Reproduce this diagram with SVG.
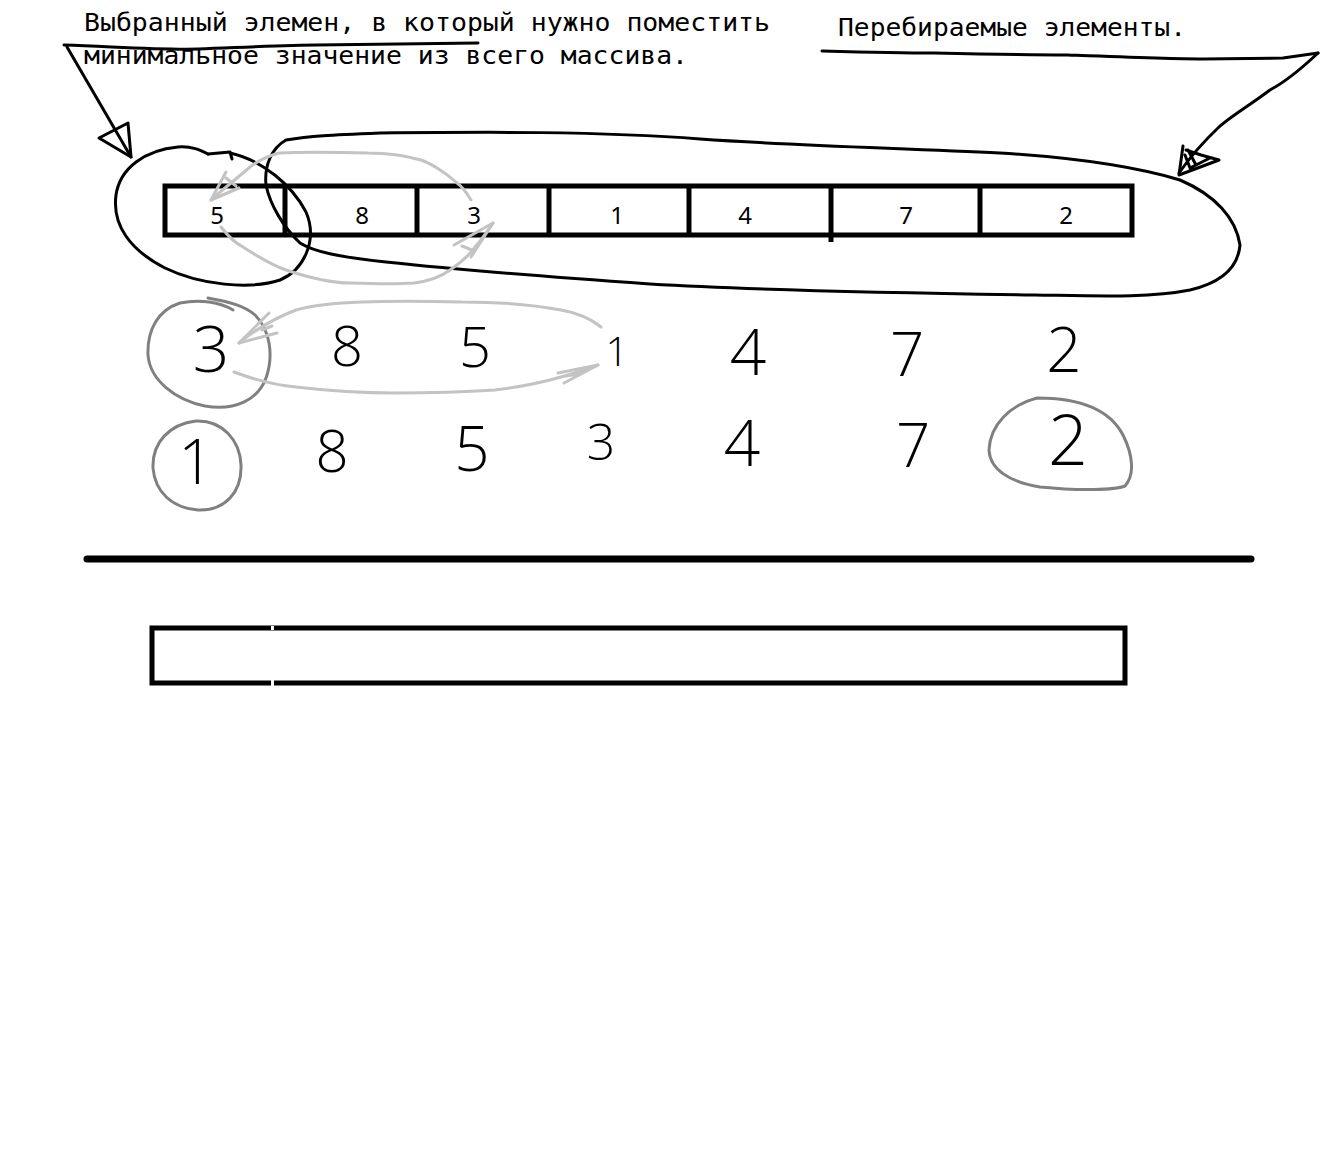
<svg xmlns="http://www.w3.org/2000/svg" width="1326" height="1160" viewBox="0 0 1326 1160">
<style>
.mono{font-family:"DejaVu Sans Mono","Liberation Mono",monospace;font-size:24px;fill:#000}
.cell{font-family:"Noto Sans","Open Sans",sans-serif;font-size:24px;fill:#000;text-anchor:middle}
.hand{font-family:"Open Sans","Noto Sans",sans-serif;font-weight:300;fill:#000;text-anchor:middle}
.ink{fill:none;stroke:#000;stroke-width:3;stroke-linecap:round;stroke-linejoin:round}
.gray{fill:none;stroke:#808080;stroke-width:3;stroke-linecap:round;stroke-linejoin:round}
.light{fill:none;stroke:#c3c3c3;stroke-width:3;stroke-linecap:round;stroke-linejoin:round}
.box{fill:none;stroke:#000;stroke-width:5}
</style>
<rect width="1326" height="1160" fill="#fff"/>

<g id="label-selected">
<text class="mono" x="84" y="31" textLength="686" lengthAdjust="spacingAndGlyphs">Выбранный элемен, в который нужно поместить</text>
<text class="mono" x="84" y="64" textLength="604" lengthAdjust="spacingAndGlyphs">минимальное значение из всего массива.</text>
</g>
<g id="label-iterated">
<text class="mono" x="838" y="36" textLength="348" lengthAdjust="spacingAndGlyphs">Перебираемые элементы.</text>
</g>

<g id="array-top">
<rect class="box" x="165" y="186" width="967" height="49"/>
<line class="box" x1="285" y1="186" x2="285" y2="235"/>
<line class="box" x1="417" y1="186" x2="417" y2="235"/>
<line class="box" x1="549" y1="186" x2="549" y2="235"/>
<line class="box" x1="689" y1="186" x2="689" y2="235"/>
<line class="box" x1="831" y1="186" x2="831" y2="242"/>
<line class="box" x1="980" y1="186" x2="980" y2="235"/>
<text class="cell" x="217" y="224">5</text>
<text class="cell" x="362" y="224">8</text>
<text class="cell" x="474" y="224">3</text>
<text class="cell" x="617" y="224">1</text>
<text class="cell" x="745" y="224">4</text>
<text class="cell" x="906" y="224">7</text>
<text class="cell" x="1066" y="224">2</text>
</g>

<g id="loop-selected">
<path class="ink" d="M230,153 C262,160 292,185 306,212 C318,240 304,270 280,280 C250,290 200,285 165,268 C130,250 112,225 116,195 C120,168 145,150 178,147 C192,146 200,150 208,154"/>
<path class="ink" d="M208,154 L230,152 L232,159"/>
</g>

<g id="loop-iterated">
<path class="ink" d="M286,140 C310,136 330,135 380,133 C480,132 600,131 700,139 C800,146 900,148 1000,153 C1080,158 1140,168 1180,180 C1215,195 1236,218 1240,245 C1238,268 1220,283 1190,290 C1150,298 1100,296 1035,295 C900,293 750,290 650,284 C550,277 460,270 386,262 C340,257 314,252 300,243 C284,228 270,205 266,185 C264,165 272,148 286,140"/>
</g>

<g id="row2">
<text class="hand" x="211" y="372" font-size="64">3</text>
<text class="hand" x="347" y="366" font-size="56">8</text>
<text class="hand" x="475" y="367" font-size="56">5</text>
<text class="hand" x="617" y="366" font-size="40">1</text>
<text class="hand" x="748" y="375" font-size="64">4</text>
<text class="hand" x="907" y="376" font-size="60">7</text>
<text class="hand" x="1064" y="372" font-size="62">2</text>
<path class="gray" d="M233,310 C220,302 200,299 180,303 C158,310 147,330 148,355 C150,380 175,400 205,406 C235,411 258,400 266,378 C274,355 270,330 255,315 C245,306 230,302 208,298"/>
</g>

<g id="row3">
<text class="hand" x="196" y="484" font-size="62">1</text>
<text class="hand" x="332" y="472" font-size="58">8</text>
<text class="hand" x="472" y="471" font-size="62">5</text>
<text class="hand" x="601" y="460" font-size="50">3</text>
<text class="hand" x="742" y="466" font-size="64">4</text>
<text class="hand" x="913" y="467" font-size="60">7</text>
<text class="hand" x="1068" y="465" font-size="70">2</text>
<path class="gray" d="M196,421 C170,424 152,442 153,468 C155,492 172,508 198,510 C225,511 242,492 241,465 C240,440 222,420 196,421 Z"/>
<path class="gray" d="M1037,398 C1010,405 990,425 989,450 C990,470 1010,482 1040,487 C1080,491 1115,490 1125,486 C1135,475 1133,455 1123,435 C1110,410 1080,398 1037,398 Z"/>
</g>

<g id="divider">
<line x1="87" y1="559" x2="1251" y2="559" stroke="#000" stroke-width="7" stroke-linecap="round"/>
</g>

<g id="array-bottom">
<rect class="box" x="152" y="628" width="973" height="55"/>
<rect x="271" y="626" width="3" height="4" fill="#fff"/>
<rect x="271" y="680" width="3" height="6" fill="#fff"/>
</g>

<g id="connectors">
<path class="ink" d="M64,45 C120,47 160,50 198,49 C250,47 290,45 317,45 C380,44 440,43 478,43"/>
<path class="ink" d="M67,47 L131,157"/>
<path class="ink" d="M131,157 L99,138 L128,123 L131,157"/>
<path class="ink" d="M822,51 C860,52 900,53 934,53 C980,54 1030,55 1068,55 C1120,57 1170,59 1203,59 L1283,58 L1318,53"/>
<path class="ink" d="M1318,53 C1300,70 1285,82 1270,90 C1250,105 1230,117 1219,127 C1200,145 1188,160 1179,173"/>
<path class="ink" d="M1183,146 L1179,175 L1219,160 L1201,155 L1186,150 M1185,155 L1190,168 L1210,158 M1188,150 L1196,165"/>
<path class="light" d="M471,200 C465,190 460,185 457,183 C445,172 430,163 421,160 C400,154 385,153 368,153 C330,152 300,152 279,153 C265,157 255,163 250,167 C235,180 222,190 211,200"/>
<path class="light" d="M211,200 L239,188 M211,200 L226,172 M226,178 L236,186"/>
<path class="light" d="M221,227 C228,236 235,243 243,247 C260,258 272,265 286,270 C310,278 330,283 350,283 C380,284 400,284 414,283 C430,281 442,276 450,270 C462,262 470,254 475,247 C483,238 488,230 493,223"/>
<path class="light" d="M493,223 L454,245 M493,223 L471,257 M462,246 L472,250"/>
<path class="light" d="M601,327 C590,318 578,313 561,310 C530,304 495,302 462,302 C420,301 390,301 362,302 C330,303 310,306 296,310 C275,318 255,330 239,343"/>
<path class="light" d="M239,343 L269,313 M239,343 L277,333 M262,330 L272,326"/>
<path class="light" d="M234,372 C255,380 275,385 296,387 C330,391 360,393 395,393 C430,393 465,392 495,390 C520,387 540,383 561,377 C575,373 588,369 598,365"/>
<path class="light" d="M598,365 L558,373 M598,365 L564,383 M566,376 L578,374"/>
</g>
</svg>
